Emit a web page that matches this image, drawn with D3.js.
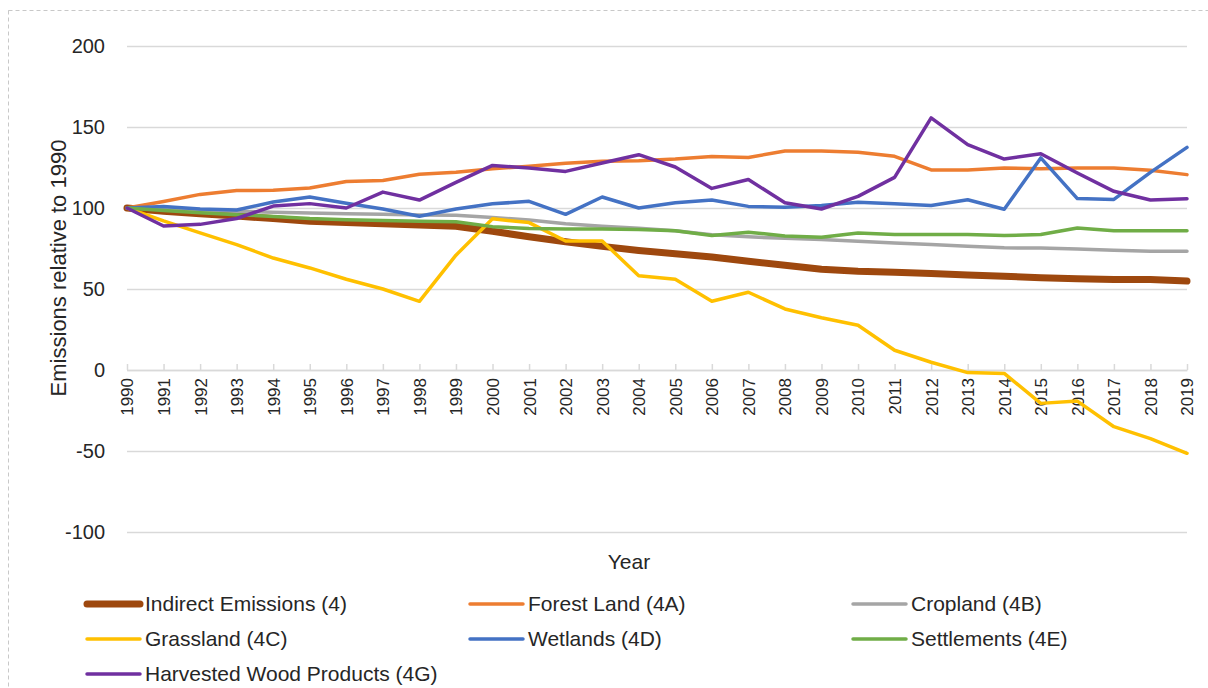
<!DOCTYPE html>
<html lang="en">
<head>
    <meta charset="UTF-8">
    <title>Emissions relative to 1990</title>
    <style>
        body { margin: 0; background: #fff; }
        text { font-family: "Liberation Sans", Arial, sans-serif; fill: #262626; }
    </style>
</head>
<body>
    <script src="https://d3js.org/d3.v7.min.js"></script>
    <script>
        // data
        const years = d3.range(1990, 2020);
        const yTicks = [-100, -50, 0, 50, 100, 150, 200];

        const indirect = [100, 98, 96.5, 95, 93.5, 91.8, 91, 90.3, 89.5, 88.7, 85.6, 82.3, 79.2, 76.3, 73.8,
            71.8, 69.8, 67.1, 64.6, 62.2, 61, 60.3, 59.5, 58.6, 57.8, 57, 56.4, 55.8, 55.8, 54.9];
        const forest = [100, 104, 108.4, 110.8, 110.9, 112.3, 116.3, 117, 120.8, 122, 124.2, 125.8, 127.6, 128.8, 129.2,
            130.2, 131.8, 131.2, 135.2, 135.2, 134.4, 131.9, 123.5, 123.5, 124.7, 124.3, 124.7, 124.7, 123.3, 120.6];
        const cropland = [100, 99.3, 98.6, 98, 97.3, 96.9, 96.5, 96.1, 95.7, 95.5, 94.2, 92.6, 90.3, 88.7, 87.5,
            86, 83.5, 82.2, 81.3, 80.6, 79.4, 78.4, 77.4, 76.4, 75.4, 75.3, 74.7, 73.9, 73.3, 73.3];
        const grassland = [100, 92, 84.6, 77.4, 69.1, 63, 56, 50, 42.4, 70.9, 93.3, 91, 79.6, 79.6, 58.2,
            56, 42.4, 48, 37.7, 32.3, 27.6, 12.2, 4.8, -1.6, -2.1, -20.6, -19.2, -35, -42.4, -51.4];
        const wetlands = [100, 101, 99.4, 98.8, 103.7, 106.8, 102.9, 99.4, 94.9, 99.4, 102.6, 104.1, 96.1, 106.8, 100,
            103.3, 104.9, 101, 100.4, 101.5, 103.6, 102.6, 101.5, 105.1, 99.2, 130.9, 105.8, 105.3, 122, 137.4];
        const settlements = [100, 98.5, 97, 95.9, 94.8, 93.5, 92.8, 92.3, 91.8, 91.5, 88.5, 87.3, 87, 87, 86.8,
            85.9, 83, 85.1, 82.7, 82, 84.6, 83.6, 83.6, 83.6, 83, 83.6, 87.7, 86, 86, 86];
        const hwp = [100, 88.9, 89.9, 93.5, 101.2, 102.7, 100, 109.8, 104.9, 115.8, 126.3, 124.7, 122.6, 127.8, 132.9,
            125.3, 112.1, 117.6, 103.2, 99.4, 107.2, 118.9, 155.6, 139.1, 130.2, 133.5, 121.6, 110.3, 104.9, 105.7];

        const series = [
            { name: 'Indirect Emissions (4)', values: indirect, color: '#9e480e', width: 7 },
            { name: 'Forest Land (4A)', values: forest, color: '#ed7d31', width: 3.5 },
            { name: 'Cropland (4B)', values: cropland, color: '#a5a5a5', width: 3.5 },
            { name: 'Grassland (4C)', values: grassland, color: '#ffc000', width: 3.5 },
            { name: 'Wetlands (4D)', values: wetlands, color: '#4472c4', width: 3.5 },
            { name: 'Settlements (4E)', values: settlements, color: '#70ad47', width: 3.5 },
            { name: 'Harvested Wood Products (4G)', values: hwp, color: '#7030a0', width: 3.5 }
        ];

        const W = 1208, H = 688;
        const plotL = 127, plotR = 1187, plotT = 46, plotB = 532;

        const svg = d3.select('body')
            .append('svg')
            .attr('width', W)
            .attr('height', H);

        // dashed frame
        svg.append('rect')
            .attr('x', 8.5).attr('y', 10.5)
            .attr('width', 1300).attr('height', 900)
            .attr('fill', 'none')
            .attr('stroke', '#c8c8c8')
            .attr('stroke-dasharray', '4,3');

        const x = d3.scalePoint().domain(years).range([plotL, plotR]);
        const y = d3.scaleLinear().domain([-100, 200]).range([plotB, plotT]);

        // gridlines + y labels
        const yAxis = svg.append('g')
            .attr('transform', `translate(${plotL},0)`)
            .call(d3.axisLeft(y).tickValues(yTicks).tickFormat(d => String(d))
                .tickSize(-(plotR - plotL)).tickPadding(22));
        yAxis.select('.domain').remove();
        yAxis.selectAll('line').attr('stroke', '#d9d9d9').attr('stroke-width', 1.5);
        yAxis.selectAll('text')
            .style('font-size', '20px')
            .style('font-family', '"Liberation Sans", Arial, sans-serif')
            .attr('fill', '#262626');

        // category axis at zero
        const xAxis = svg.append('g')
            .attr('transform', `translate(0,${y(0)})`)
            .call(d3.axisBottom(x).tickSize(-6).tickSizeOuter(0));
        xAxis.select('.domain').attr('stroke', '#d9d9d9').attr('stroke-width', 1.5);
        xAxis.selectAll('line').attr('stroke', '#d9d9d9').attr('stroke-width', 1.5);
        xAxis.selectAll('text')
            .attr('transform', 'translate(0,8) rotate(-90)')
            .attr('x', 0).attr('y', 0)
            .attr('dy', '0.35em')
            .attr('text-anchor', 'end')
            .style('font-size', '17px')
            .style('font-family', '"Liberation Sans", Arial, sans-serif')
            .attr('fill', '#262626');

        const line = d3.line()
            .x((d, i) => x(years[i]))
            .y(d => y(d));

        svg.append('g')
            .selectAll('path')
            .data(series)
            .enter()
            .append('path')
            .attr('d', d => line(d.values))
            .attr('fill', 'none')
            .attr('stroke', d => d.color)
            .attr('stroke-width', d => d.width)
            .attr('stroke-linejoin', 'round')
            .attr('stroke-linecap', 'round');

        // titles
        svg.append('text')
            .attr('transform', `translate(66,${(plotT + plotB) / 2 - 21}) rotate(-90)`)
            .attr('text-anchor', 'middle')
            .style('font-size', '22px')
            .text('Emissions relative to 1990');

        svg.append('text')
            .attr('x', 629).attr('y', 569)
            .attr('text-anchor', 'middle')
            .style('font-size', '21px')
            .text('Year');

        // legend
        const legend = svg.append('g')
            .selectAll('g')
            .data(series)
            .enter()
            .append('g')
            .attr('transform', (d, i) => `translate(${87 + (i % 3) * 383},${604 + Math.floor(i / 3) * 35})`);
        legend.append('line')
            .attr('x1', 0).attr('x2', 53)
            .attr('stroke', d => d.color)
            .attr('stroke-width', d => d.width)
            .attr('stroke-linecap', 'round');
        legend.append('text')
            .attr('x', 58).attr('dy', '0.35em')
            .style('font-size', '21px')
            .text(d => d.name);
    </script>
</body>
</html>
